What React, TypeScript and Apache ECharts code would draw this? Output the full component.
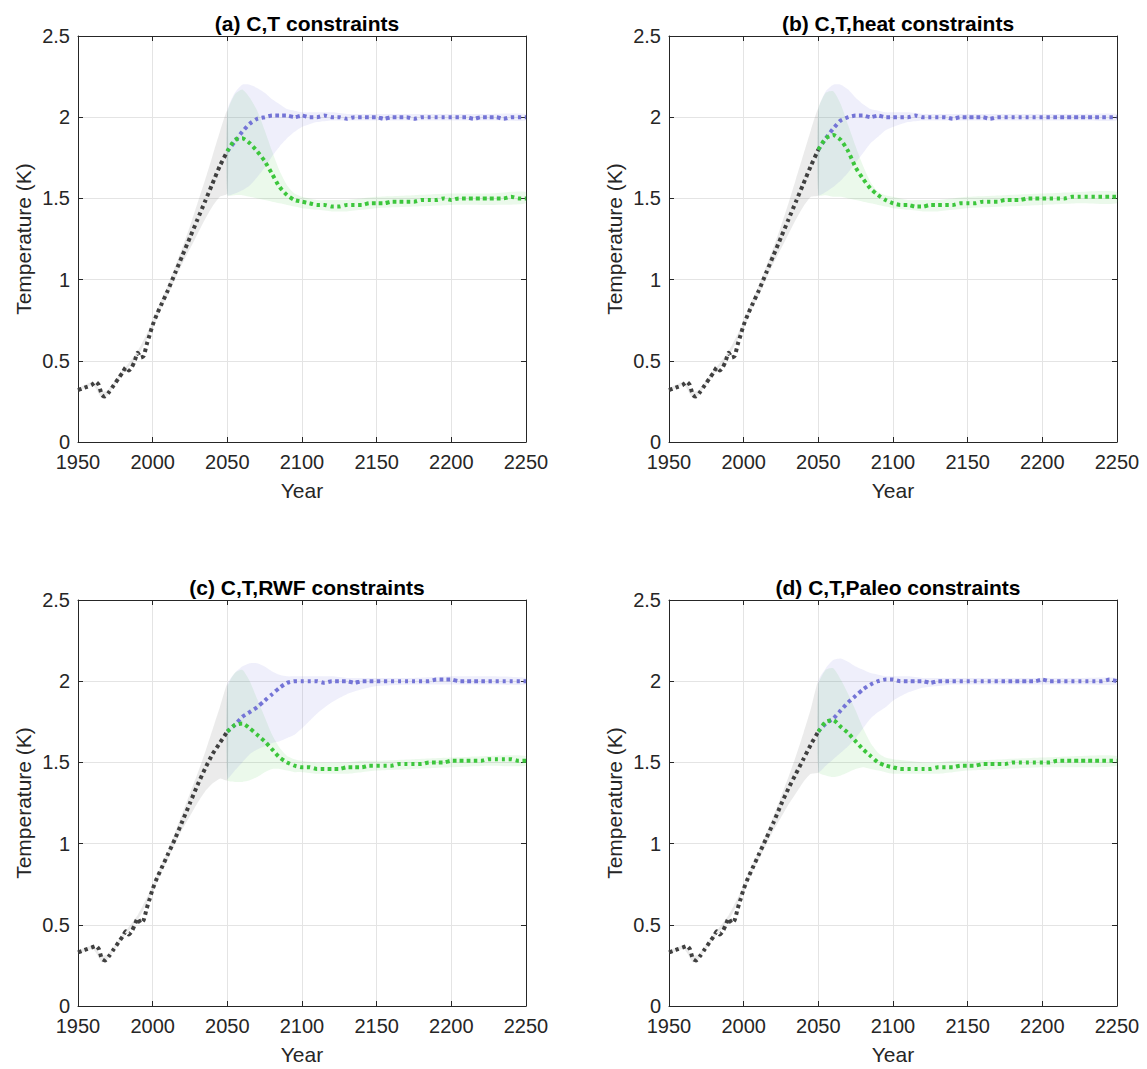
import React, { useEffect, useRef } from "react";
import * as echarts from "echarts";

// ---------- Data ----------
const TITLES = [
  "(a) C,T constraints",
  "(b) C,T,heat constraints",
  "(c) C,T,RWF constraints",
  "(d) C,T,Paleo constraints",
];

const X_MIN = 1950;
const X_MAX = 2250;
const X_STEP = 50;
const Y_MIN = 0;
const Y_MAX = 2.5;
const Y_STEP = 0.5;

// historical (black dotted) line
const HIST_YEARS = [1950, 1953, 1956, 1959, 1962, 1964, 1966, 1968, 1971, 1974, 1977, 1980, 1982, 1984, 1986, 1988, 1990, 1992, 1994, 1996, 1998, 2000, 2003, 2006, 2010, 2015, 2020, 2025, 2030, 2035, 2040, 2045, 2050];
const HIST_A = [0.32, 0.33, 0.34, 0.35, 0.37, 0.35, 0.29, 0.28, 0.31, 0.35, 0.39, 0.43, 0.46, 0.44, 0.46, 0.5, 0.55, 0.52, 0.53, 0.6, 0.66, 0.72, 0.79, 0.85, 0.93, 1.04, 1.15, 1.26, 1.37, 1.48, 1.59, 1.7, 1.79];
const HIST_B = [0.32, 0.33, 0.34, 0.35, 0.37, 0.35, 0.29, 0.28, 0.31, 0.35, 0.39, 0.43, 0.46, 0.44, 0.46, 0.5, 0.55, 0.52, 0.53, 0.6, 0.66, 0.72, 0.79, 0.85, 0.93, 1.04, 1.15, 1.26, 1.37, 1.48, 1.59, 1.7, 1.8];
const HIST_C = [0.33, 0.34, 0.35, 0.36, 0.37, 0.35, 0.29, 0.28, 0.31, 0.35, 0.39, 0.43, 0.46, 0.44, 0.46, 0.5, 0.54, 0.51, 0.53, 0.6, 0.66, 0.72, 0.79, 0.85, 0.93, 1.03, 1.14, 1.25, 1.36, 1.46, 1.55, 1.62, 1.69];
const HIST_D = [0.33, 0.34, 0.35, 0.36, 0.37, 0.35, 0.29, 0.28, 0.31, 0.35, 0.39, 0.43, 0.46, 0.44, 0.46, 0.5, 0.54, 0.51, 0.53, 0.6, 0.66, 0.72, 0.79, 0.85, 0.93, 1.03, 1.13, 1.24, 1.34, 1.43, 1.52, 1.61, 1.69];

// future scenario lines (blue: 2 K target, green: 1.5 K target)
const FUT_YEARS = [2050, 2055, 2060, 2065, 2070, 2075, 2080, 2085, 2090, 2095, 2100, 2105, 2110, 2115, 2120, 2125, 2130, 2135, 2140, 2145, 2150, 2155, 2160, 2165, 2170, 2175, 2180, 2185, 2190, 2195, 2200, 2205, 2210, 2215, 2220, 2225, 2230, 2235, 2240, 2245, 2250];
const BLUE_A = [1.79, 1.85, 1.91, 1.96, 1.99, 2.0, 2.01, 2.01, 2.01, 2.0, 2.01, 2.0, 2.0, 2.01, 2.0, 2.0, 1.99, 2.0, 2.0, 2.0, 2.0, 1.99, 2.0, 2.0, 2.0, 1.99, 2.0, 2.0, 2.0, 2.0, 2.0, 2.0, 2.0, 1.99, 2.0, 2.0, 2.0, 1.99, 2.0, 2.0, 2.0];
const GREEN_A = [1.79, 1.86, 1.87, 1.84, 1.79, 1.73, 1.65, 1.57, 1.52, 1.49, 1.48, 1.47, 1.46, 1.46, 1.45, 1.45, 1.46, 1.46, 1.46, 1.47, 1.47, 1.47, 1.48, 1.48, 1.48, 1.48, 1.49, 1.49, 1.49, 1.5, 1.49, 1.5, 1.5, 1.5, 1.5, 1.5, 1.5, 1.5, 1.51, 1.5, 1.5];
const BLUE_B = [1.8, 1.87, 1.93, 1.98, 2.0, 2.01, 2.01, 2.0, 2.01, 2.0, 2.0, 2.0, 2.0, 2.01, 2.0, 2.0, 2.0, 2.0, 1.99, 2.0, 2.0, 2.0, 2.0, 1.99, 2.0, 2.0, 2.0, 2.0, 2.0, 2.0, 2.0, 2.0, 2.0, 2.0, 2.0, 2.0, 2.0, 2.0, 2.0, 2.0, 2.0];
const GREEN_B = [1.8, 1.87, 1.89, 1.86, 1.79, 1.69, 1.62, 1.56, 1.52, 1.49, 1.47, 1.46, 1.46, 1.45, 1.45, 1.46, 1.46, 1.46, 1.46, 1.47, 1.47, 1.47, 1.48, 1.48, 1.48, 1.49, 1.49, 1.49, 1.5, 1.5, 1.5, 1.5, 1.5, 1.5, 1.51, 1.51, 1.51, 1.51, 1.51, 1.51, 1.51];
const BLUE_C = [1.69, 1.73, 1.78, 1.81, 1.84, 1.88, 1.92, 1.96, 1.99, 2.0, 2.0, 2.0, 2.0, 1.99, 2.0, 2.0, 2.0, 1.99, 2.0, 2.0, 2.0, 2.0, 2.0, 2.0, 2.0, 2.0, 2.0, 2.0, 2.01, 2.01, 2.01, 2.0, 2.0, 2.0, 2.0, 2.0, 2.0, 2.0, 2.0, 2.0, 2.0];
const GREEN_C = [1.69, 1.73, 1.74, 1.71, 1.67, 1.63, 1.58, 1.53, 1.5, 1.48, 1.47, 1.47, 1.46, 1.46, 1.46, 1.46, 1.47, 1.47, 1.47, 1.48, 1.48, 1.48, 1.48, 1.49, 1.49, 1.49, 1.49, 1.5, 1.5, 1.5, 1.51, 1.51, 1.51, 1.51, 1.51, 1.52, 1.52, 1.52, 1.52, 1.51, 1.51];
const BLUE_D = [1.69, 1.74, 1.77, 1.82, 1.87, 1.91, 1.95, 1.98, 2.0, 2.01, 2.01, 2.0, 2.0, 2.0, 2.0, 1.99, 2.0, 2.0, 2.0, 2.0, 2.0, 2.0, 2.0, 2.0, 2.0, 2.0, 2.0, 2.0, 2.0, 2.0, 2.01, 2.0, 2.0, 2.0, 2.0, 2.0, 2.0, 2.0, 2.0, 2.01, 2.0];
const GREEN_D = [1.69, 1.75, 1.76, 1.72, 1.68, 1.63, 1.58, 1.54, 1.5, 1.48, 1.47, 1.46, 1.46, 1.46, 1.46, 1.46, 1.47, 1.47, 1.47, 1.48, 1.48, 1.48, 1.49, 1.49, 1.49, 1.49, 1.5, 1.5, 1.5, 1.5, 1.5, 1.5, 1.51, 1.51, 1.51, 1.51, 1.51, 1.51, 1.51, 1.51, 1.51];

// historical uncertainty band (grey)
const GRAY_YEARS = [1950, 1960, 1966, 1970, 1980, 1990, 2000, 2005, 2010, 2015, 2020, 2025, 2030, 2035, 2040, 2045, 2050];
const GRAY_LO_A = [0.31, 0.35, 0.27, 0.29, 0.42, 0.53, 0.7, 0.81, 0.9, 1.0, 1.1, 1.19, 1.28, 1.37, 1.45, 1.51, 1.53];
const GRAY_HI_A = [0.33, 0.37, 0.31, 0.32, 0.44, 0.56, 0.74, 0.86, 0.96, 1.08, 1.2, 1.33, 1.47, 1.61, 1.76, 1.91, 2.04];
const GRAY_LO_B = [0.31, 0.35, 0.27, 0.29, 0.42, 0.53, 0.7, 0.81, 0.9, 1.0, 1.1, 1.19, 1.28, 1.37, 1.45, 1.51, 1.52];
const GRAY_HI_B = [0.33, 0.37, 0.31, 0.32, 0.44, 0.56, 0.74, 0.86, 0.96, 1.08, 1.2, 1.33, 1.47, 1.62, 1.77, 1.92, 2.05];
const GRAY_LO_C = [0.32, 0.35, 0.27, 0.29, 0.42, 0.53, 0.7, 0.81, 0.9, 1.0, 1.09, 1.17, 1.25, 1.32, 1.37, 1.4, 1.39];
const GRAY_HI_C = [0.34, 0.37, 0.31, 0.32, 0.44, 0.56, 0.74, 0.85, 0.95, 1.07, 1.19, 1.31, 1.43, 1.56, 1.7, 1.84, 1.98];
const GRAY_LO_D = [0.32, 0.35, 0.27, 0.29, 0.42, 0.53, 0.7, 0.81, 0.9, 0.99, 1.08, 1.16, 1.24, 1.31, 1.38, 1.43, 1.44];
const GRAY_HI_D = [0.34, 0.37, 0.31, 0.32, 0.44, 0.56, 0.74, 0.85, 0.95, 1.06, 1.17, 1.29, 1.41, 1.54, 1.68, 1.83, 2.0];

// future uncertainty bands (green and blue)
const BAND_YEARS = [2050, 2055, 2060, 2065, 2070, 2075, 2080, 2085, 2090, 2095, 2100, 2110, 2120, 2130, 2140, 2150, 2175, 2200, 2225, 2250];
const GREEN_LO_A = [1.52, 1.52, 1.52, 1.51, 1.5, 1.49, 1.48, 1.47, 1.46, 1.45, 1.44, 1.43, 1.42, 1.42, 1.43, 1.44, 1.45, 1.46, 1.46, 1.47];
const GREEN_HI_A = [2.03, 2.14, 2.17, 2.12, 2.04, 1.92, 1.79, 1.67, 1.58, 1.53, 1.51, 1.49, 1.49, 1.49, 1.5, 1.51, 1.52, 1.53, 1.53, 1.54];
const BLUE_LO_A = [1.52, 1.53, 1.55, 1.58, 1.63, 1.69, 1.76, 1.82, 1.87, 1.91, 1.94, 1.97, 1.98, 1.98, 1.98, 1.98, 1.98, 1.98, 1.98, 1.98];
const BLUE_HI_A = [2.04, 2.15, 2.2, 2.2, 2.18, 2.15, 2.11, 2.08, 2.05, 2.04, 2.03, 2.03, 2.03, 2.02, 2.02, 2.02, 2.02, 2.02, 2.02, 2.02];
const GREEN_LO_B = [1.52, 1.52, 1.51, 1.51, 1.5, 1.49, 1.48, 1.47, 1.46, 1.45, 1.44, 1.43, 1.42, 1.42, 1.43, 1.44, 1.45, 1.46, 1.47, 1.47];
const GREEN_HI_B = [2.05, 2.15, 2.16, 2.08, 1.95, 1.82, 1.7, 1.6, 1.54, 1.52, 1.51, 1.49, 1.49, 1.49, 1.5, 1.51, 1.52, 1.53, 1.54, 1.54];
const BLUE_LO_B = [1.52, 1.54, 1.57, 1.61, 1.66, 1.72, 1.78, 1.84, 1.88, 1.92, 1.94, 1.97, 1.98, 1.98, 1.98, 1.98, 1.98, 1.98, 1.98, 1.98];
const BLUE_HI_B = [2.05, 2.16, 2.2, 2.2, 2.17, 2.12, 2.08, 2.05, 2.04, 2.03, 2.03, 2.03, 2.02, 2.02, 2.02, 2.02, 2.02, 2.02, 2.02, 2.02];
const GREEN_LO_C = [1.39, 1.38, 1.38, 1.39, 1.41, 1.44, 1.46, 1.46, 1.45, 1.44, 1.44, 1.43, 1.43, 1.43, 1.44, 1.45, 1.46, 1.47, 1.48, 1.48];
const GREEN_HI_C = [1.96, 2.05, 2.07, 2.0, 1.89, 1.78, 1.67, 1.59, 1.54, 1.52, 1.51, 1.5, 1.5, 1.5, 1.51, 1.51, 1.52, 1.53, 1.54, 1.54];
const BLUE_LO_C = [1.4, 1.45, 1.5, 1.55, 1.58, 1.6, 1.62, 1.63, 1.65, 1.67, 1.71, 1.8, 1.87, 1.92, 1.95, 1.97, 1.98, 1.98, 1.98, 1.98];
const BLUE_HI_C = [1.98, 2.05, 2.09, 2.11, 2.11, 2.09, 2.06, 2.04, 2.03, 2.03, 2.03, 2.03, 2.03, 2.02, 2.02, 2.02, 2.02, 2.03, 2.03, 2.02];
const GREEN_LO_D = [1.44, 1.42, 1.41, 1.42, 1.44, 1.46, 1.47, 1.46, 1.45, 1.44, 1.43, 1.43, 1.43, 1.43, 1.44, 1.45, 1.46, 1.47, 1.47, 1.48];
const GREEN_HI_D = [1.98, 2.07, 2.08, 2.01, 1.92, 1.82, 1.71, 1.62, 1.56, 1.53, 1.52, 1.51, 1.5, 1.5, 1.51, 1.51, 1.52, 1.53, 1.54, 1.54];
const BLUE_LO_D = [1.44, 1.48, 1.52, 1.56, 1.6, 1.65, 1.71, 1.77, 1.81, 1.84, 1.88, 1.93, 1.96, 1.97, 1.98, 1.98, 1.98, 1.98, 1.98, 1.98];
const BLUE_HI_D = [2.0, 2.08, 2.13, 2.14, 2.12, 2.09, 2.07, 2.05, 2.04, 2.03, 2.03, 2.03, 2.02, 2.02, 2.02, 2.02, 2.02, 2.02, 2.02, 2.02];

// ---------- Styling / layout ----------
const FONT = "'Liberation Sans', Arial, Helvetica, sans-serif";
const AXIS_COLOR = "#262626";
const GRID_COLOR = "#e4e4e4";
const BLACK_LINE = "#404040";
const BLUE_LINE = "#7474d6";
const GREEN_LINE = "#3cc63c";
const GRAY_FILL = "rgba(110,110,110,0.14)";
const BLUE_FILL = "rgba(110,110,220,0.11)";
const GREEN_FILL = "rgba(60,200,60,0.1)";

const GRID_POS = [
  { left: 78, top: 36 },
  { left: 669, top: 36 },
  { left: 78, top: 600 },
  { left: 669, top: 600 },
];
const GRID_W = 448;
const GRID_H = 406;

const PANELS = [
  { hist: HIST_A, blue: BLUE_A, green: GREEN_A, gLo: GRAY_LO_A, gHi: GRAY_HI_A, grLo: GREEN_LO_A, grHi: GREEN_HI_A, bLo: BLUE_LO_A, bHi: BLUE_HI_A },
  { hist: HIST_B, blue: BLUE_B, green: GREEN_B, gLo: GRAY_LO_B, gHi: GRAY_HI_B, grLo: GREEN_LO_B, grHi: GREEN_HI_B, bLo: BLUE_LO_B, bHi: BLUE_HI_B },
  { hist: HIST_C, blue: BLUE_C, green: GREEN_C, gLo: GRAY_LO_C, gHi: GRAY_HI_C, grLo: GREEN_LO_C, grHi: GREEN_HI_C, bLo: BLUE_LO_C, bHi: BLUE_HI_C },
  { hist: HIST_D, blue: BLUE_D, green: GREEN_D, gLo: GRAY_LO_D, gHi: GRAY_HI_D, grLo: GREEN_LO_D, grHi: GREEN_HI_D, bLo: BLUE_LO_D, bHi: BLUE_HI_D },
];

function bandSeries(i: number, years: number[], lo: number[], hi: number[], fill: string) {
  return {
    type: "custom",
    xAxisIndex: 2 * i,
    yAxisIndex: 2 * i,
    silent: true,
    z: 1,
    data: [[years[0], lo[0]]],
    renderItem: (_params: any, api: any) => {
      const pts: number[][] = [];
      for (let k = 0; k < years.length; k++) pts.push(api.coord([years[k], hi[k]]));
      for (let k = years.length - 1; k >= 0; k--) pts.push(api.coord([years[k], lo[k]]));
      return {
        type: "polygon",
        shape: { points: pts, smooth: 0.2 },
        style: { fill, stroke: "none" },
      };
    },
  };
}

function lineSeries(i: number, years: number[], vals: number[], color: string, z: number) {
  return {
    type: "line",
    xAxisIndex: 2 * i,
    yAxisIndex: 2 * i,
    data: years.map((y, k) => [y, vals[k]]),
    symbol: "none",
    showSymbol: false,
    smooth: 0.2,
    silent: true,
    z,
    lineStyle: { color, width: 4, type: [3.5, 3.5], cap: "butt" },
  };
}

function buildOption() {
  const grid: any[] = [];
  const xAxis: any[] = [];
  const yAxis: any[] = [];
  const title: any[] = [];
  const series: any[] = [];

  PANELS.forEach((p, i) => {
    const pos = GRID_POS[i];
    grid.push({ left: pos.left, top: pos.top, width: GRID_W, height: GRID_H, containLabel: false });
    title.push({
      text: TITLES[i],
      left: pos.left + GRID_W / 2,
      top: pos.top - 28,
      textAlign: "center",
      textStyle: { fontFamily: FONT, fontSize: 21, fontWeight: "bold", color: "#000" },
    });
    const tickStyle = { show: true, inside: true, length: 5, lineStyle: { color: AXIS_COLOR, width: 1 } };
    const lineStyle = { show: true, onZero: false, lineStyle: { color: AXIS_COLOR, width: 1 } };
    xAxis.push({
      gridIndex: i,
      type: "value",
      position: "bottom",
      min: X_MIN,
      max: X_MAX,
      interval: X_STEP,
      axisLine: lineStyle,
      axisTick: tickStyle,
      axisLabel: {
        color: AXIS_COLOR,
        fontFamily: FONT,
        fontSize: 20,
        margin: 10,
        formatter: (v: number) => String(v),
      },
      splitLine: { show: true, lineStyle: { color: GRID_COLOR, width: 1 } },
      name: "Year",
      nameLocation: "middle",
      nameGap: 38,
      nameTextStyle: { color: AXIS_COLOR, fontFamily: FONT, fontSize: 21 },
    });
    xAxis.push({
      gridIndex: i,
      type: "value",
      position: "top",
      min: X_MIN,
      max: X_MAX,
      interval: X_STEP,
      axisLine: lineStyle,
      axisTick: tickStyle,
      axisLabel: { show: false },
      splitLine: { show: false },
    });
    yAxis.push({
      gridIndex: i,
      type: "value",
      position: "left",
      min: Y_MIN,
      max: Y_MAX,
      interval: Y_STEP,
      axisLine: lineStyle,
      axisTick: tickStyle,
      axisLabel: { color: AXIS_COLOR, fontFamily: FONT, fontSize: 20, margin: 8 },
      splitLine: { show: true, lineStyle: { color: GRID_COLOR, width: 1 } },
      name: "Temperature (K)",
      nameLocation: "middle",
      nameGap: 44,
      nameRotate: 90,
      nameTextStyle: { color: AXIS_COLOR, fontFamily: FONT, fontSize: 21 },
    });
    yAxis.push({
      gridIndex: i,
      type: "value",
      position: "right",
      min: Y_MIN,
      max: Y_MAX,
      interval: Y_STEP,
      axisLine: lineStyle,
      axisTick: tickStyle,
      axisLabel: { show: false },
      splitLine: { show: false },
    });

    series.push(bandSeries(i, GRAY_YEARS, p.gLo, p.gHi, GRAY_FILL));
    series.push(bandSeries(i, BAND_YEARS, p.grLo, p.grHi, GREEN_FILL));
    series.push(bandSeries(i, BAND_YEARS, p.bLo, p.bHi, BLUE_FILL));
    series.push(lineSeries(i, HIST_YEARS, p.hist, BLACK_LINE, 3));
    series.push(lineSeries(i, FUT_YEARS, p.blue, BLUE_LINE, 4));
    series.push(lineSeries(i, FUT_YEARS, p.green, GREEN_LINE, 5));
  });

  return {
    animation: false,
    backgroundColor: "#ffffff",
    title,
    grid,
    xAxis,
    yAxis,
    series,
  };
}

export default function App() {
  const ref = useRef<HTMLDivElement>(null);
  useEffect(() => {
    if (!ref.current) return;
    const chart = echarts.init(ref.current, undefined, { renderer: "svg" });
    chart.setOption(buildOption() as any);
    return () => chart.dispose();
  }, []);
  return (
    <div
      ref={ref}
      style={{ position: "absolute", left: 0, top: 0, width: 1147, height: 1069, background: "#fff" }}
    />
  );
}
